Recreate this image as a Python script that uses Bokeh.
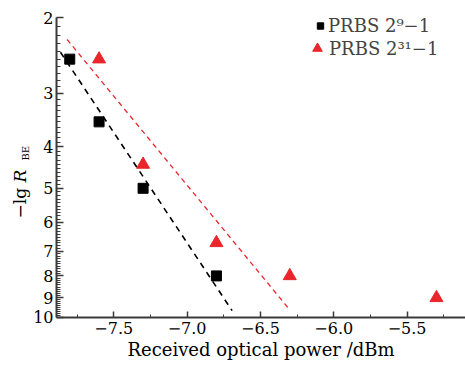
import numpy as np
from bokeh.plotting import figure
from bokeh.models import (Range1d, FixedTicker, PrintfTickFormatter, CustomJSTickFormatter,
                          Legend, LegendItem, Label)
from bokeh.embed import file_html
from bokeh.resources import INLINE

# data
power_9 = [-7.8, -7.6, -7.3, -6.8]
ber_9 = [2.5, 3.5, 5.0, 8.0]
power_31 = [-7.6, -7.3, -6.8, -6.3, -5.3]
ber_31 = [2.5, 4.4, 6.7, 8.0, 9.0]
fit_x_9 = [-7.863, -6.693]
fit_y_9 = [2.41, 9.64]
fit_x_31 = [-7.818, -6.30]
fit_y_31 = [2.25, 9.6]
x_ticks = [-7.5, -7.0, -6.5, -6.0, -5.5]
x_minor = [-7.75, -7.25, -6.75, -6.25, -5.75, -5.25]
y_ticks = [2, 3, 4, 5, 6, 7, 8, 9, 10]
y_minor = [round(2 + 0.1 * i, 1) for i in range(1, 80)]
labels = ["PRBS 2\u2079\u22121", "PRBS 2\u00b3\u00b9\u22121"]
x_axis_start = -7.89
x_axis_end = -5.102
x_view_start = -8.272
y_axis_top = 2
y_axis_bottom = 10
y_view_top = 1.825
y_view_bottom = 13.15

FONT = "DejaVu Serif"
RED = "#e8262b"
AX = "#3a3a3a"

p = figure(width=465, height=368, output_backend="svg", toolbar_location=None,
           x_range=Range1d(x_view_start, x_axis_end),
           y_range=Range1d(y_view_bottom, y_view_top), y_axis_type="log",
           min_border_left=0, min_border_right=0, min_border_top=0, min_border_bottom=0)
p.outline_line_color = None
p.grid.visible = False
p.background_fill_color = "white"
p.border_fill_color = "white"

# axes
p.xaxis.ticker = FixedTicker(ticks=x_ticks, minor_ticks=x_minor)
p.xaxis.formatter = CustomJSTickFormatter(code="return tick.toFixed(1).replace('-', '\u2212');")
p.xaxis.bounds = (x_axis_start, x_axis_end)
p.xaxis.fixed_location = y_axis_bottom
p.yaxis.ticker = FixedTicker(ticks=y_ticks, minor_ticks=y_minor)
p.yaxis.formatter = PrintfTickFormatter(format="%d")
p.yaxis.bounds = (y_axis_top, y_axis_bottom)
p.yaxis.fixed_location = x_axis_start
for ax in (p.xaxis[0], p.yaxis[0]):
    ax.axis_line_color = AX
    ax.axis_line_width = 2
    ax.major_tick_line_color = AX
    ax.minor_tick_line_color = AX
    ax.major_tick_line_width = 1.5
    ax.minor_tick_line_width = 1
    ax.major_tick_out = 0
    ax.minor_tick_out = 0
    ax.major_label_text_font = FONT
    ax.major_label_text_color = "black"
    ax.major_label_text_font_size = "16px"
p.yaxis.major_tick_in = 7
p.yaxis.minor_tick_in = 4
p.xaxis.major_tick_in = 6
p.xaxis.minor_tick_in = 3
p.yaxis.major_label_standoff = 3
p.xaxis.major_label_standoff = 5
p.xaxis.axis_label = "Received optical power /dBm"
p.xaxis.axis_label_text_font = FONT
p.xaxis.axis_label_text_font_style = "normal"
p.xaxis.axis_label_text_font_size = "18px"
p.xaxis.axis_label_text_color = "black"
p.xaxis.axis_label_standoff = 1

# fit lines
p.line(fit_x_9, fit_y_9, line_color="black", line_width=1.6, line_dash="6 5")
p.line(fit_x_31, fit_y_31, line_color=RED, line_width=1.3, line_dash="5 4")

# points
r9 = p.scatter(power_9, ber_9, marker="square", size=10, fill_color="black", line_color="black")
r31 = p.scatter(power_31, ber_31, marker="triangle", size=13, fill_color=RED, line_color=RED)

leg_style = dict(background_fill_alpha=0, border_line_color=None, padding=0, margin=0,
                 spacing=0, label_text_font=FONT, label_text_font_size="18px")
legend1 = Legend(items=[LegendItem(label=labels[0], renderers=[r9])],
                 location=(312, 331), glyph_width=16, glyph_height=23, label_height=23,
                 label_standoff=0, **leg_style)
legend2 = Legend(items=[LegendItem(label=labels[1], renderers=[r31])],
                 location=(305, 308), glyph_width=24, glyph_height=24, label_height=24,
                 label_standoff=0, **leg_style)
p.add_layout(legend1)
p.add_layout(legend2)

# y axis label: -lg R_BE
common = dict(x_units="screen", y_units="screen", angle=np.pi / 2, text_font=FONT,
              text_color="black", text_align="left", text_baseline="alphabetic")
p.add_layout(Label(x=19, y=150, text="\u2212lg", text_font_size="17px", **common))
p.add_layout(Label(x=19, y=186, text="R", text_font_size="17px", text_font_style="italic", **common))
p.add_layout(Label(x=25, y=208, text="BE", text_font_size="10px", **common))

open("out.html", "w").write(file_html(p, INLINE))
